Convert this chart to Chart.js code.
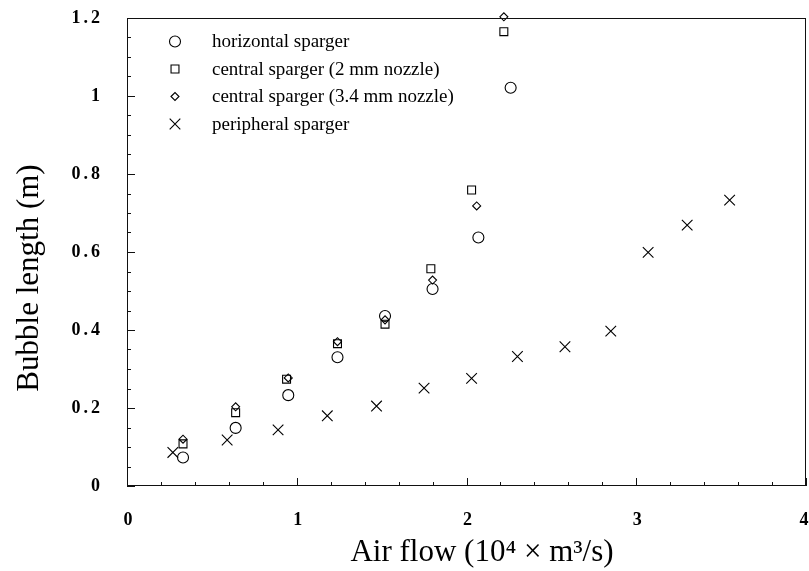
<!DOCTYPE html>
<html><head><meta charset="utf-8">
<script src="https://cdn.jsdelivr.net/npm/chart.js@4/dist/chart.umd.min.js"></script>
<style>html,body{margin:0;padding:0;background:#fff}#wrap{width:809px;height:571px}</style>
</head><body><div id="wrap"><canvas id="c" width="809" height="571"></canvas></div>
<script>
const seriesNames = ["horizontal sparger", "central sparger (2 mm nozzle)", "central sparger (3.4 mm nozzle)", "peripheral sparger"];
const horizontalX = [0.33, 0.64, 0.95, 1.24, 1.52, 1.80, 2.07, 2.26];
const horizontalY = [0.073, 0.149, 0.233, 0.330, 0.436, 0.505, 0.637, 1.021];
const central2X = [0.33, 0.64, 0.94, 1.24, 1.52, 1.79, 2.03, 2.22];
const central2Y = [0.108, 0.188, 0.274, 0.365, 0.415, 0.557, 0.759, 1.165];
const central34X = [0.33, 0.64, 0.95, 1.24, 1.52, 1.80, 2.06, 2.22];
const central34Y = [0.120, 0.203, 0.277, 0.370, 0.426, 0.528, 0.718, 1.203];
const peripheralX = [0.27, 0.59, 0.89, 1.18, 1.47, 1.75, 2.03, 2.30, 2.58, 2.85, 3.07, 3.30, 3.55];
const peripheralY = [0.086, 0.118, 0.144, 0.180, 0.205, 0.251, 0.276, 0.332, 0.357, 0.397, 0.599, 0.669, 0.733];
const xTickValues = [0, 1, 2, 3, 4];
const xTickLabels = ["0", "1", "2", "3", "4"];
const yTickValues = [0, 0.2, 0.4, 0.6, 0.8, 1, 1.2];
const xTitle = "Air flow (10\u2074 \u00d7 m\u00b3/s)";
const yTitle = "Bubble length (m)";

const toPts = (xs, ys) => xs.map((x, i) => ({x: x, y: ys[i]}));
const styles = [
  {pointStyle: 'circle', radius: 5.5},
  {pointStyle: 'rect', radius: 5.6},
  {pointStyle: 'rectRot', radius: 4},
  {pointStyle: 'crossRot', radius: 7.5}
];
const allData = [toPts(horizontalX, horizontalY), toPts(central2X, central2Y), toPts(central34X, central34Y), toPts(peripheralX, peripheralY)];
const SERIF = "'Liberation Serif', 'Times New Roman', serif";

function drawMarker(ctx, style, r, x, y) {
  ctx.beginPath();
  if (style === 'circle') { ctx.arc(x, y, r, 0, Math.PI * 2); }
  else if (style === 'rect') { const s = Math.SQRT1_2 * r; ctx.rect(x - s, y - s, 2 * s, 2 * s); }
  else if (style === 'rectRot') { ctx.moveTo(x - r, y); ctx.lineTo(x, y - r); ctx.lineTo(x + r, y); ctx.lineTo(x, y + r); ctx.closePath(); }
  else if (style === 'crossRot') { const o = Math.SQRT1_2 * r; ctx.moveTo(x - o, y - o); ctx.lineTo(x + o, y + o); ctx.moveTo(x + o, y - o); ctx.lineTo(x - o, y + o); }
  ctx.stroke();
}

const framePlugin = {
  id: 'frame',
  beforeDraw(chart) { chart.ctx.letterSpacing = '3px'; },
  beforeDatasetsDraw(chart) { chart.ctx.letterSpacing = '0px'; },
  afterDraw(chart) {
    const {ctx, chartArea: a, scales} = chart;
    ctx.save();
    ctx.letterSpacing = '0px';
    ctx.strokeStyle = '#111';
    ctx.lineWidth = 1;
    ctx.strokeRect(a.left + 0.5, a.top + 0.5, a.right - a.left - 1, a.bottom - a.top - 1);
    ctx.beginPath();
    for (let i = 0; i <= 20; i++) {
      const v = i * 0.2;
      const px = Math.round(scales.x.getPixelForValue(v)) + 0.5;
      const len = (i % 5 === 0) ? 8 : 4;
      ctx.moveTo(px, a.bottom); ctx.lineTo(px, a.bottom - len);
    }
    for (let i = 0; i <= 24; i++) {
      const v = i * 0.05;
      const py = Math.round(scales.y.getPixelForValue(v)) + 0.5;
      const len = (i % 4 === 0) ? 8 : 4;
      ctx.moveTo(a.left, py); ctx.lineTo(a.left + len, py);
    }
    ctx.stroke();
    ctx.fillStyle = '#000';
    // x tick labels
    ctx.font = "bold 18px " + SERIF;
    ctx.textAlign = 'center';
    ctx.textBaseline = 'middle';
    xTickValues.forEach((v, i) => {
      const px = Math.min(scales.x.getPixelForValue(v) + 1, chart.width - 5);
      ctx.fillText(xTickLabels[i], px, a.bottom + 34);
    });
    // legend
    ctx.lineWidth = 1.1;
    ctx.strokeStyle = '#000';
    ctx.font = "19px " + SERIF;
    ctx.textAlign = 'left';
    chart.data.datasets.forEach((ds, i) => {
      const y = 41.5 + i * 27.5;
      drawMarker(ctx, ds.pointStyle, ds.pointRadius, 175, y);
      ctx.fillText(ds.label, 212, y + 1);
    });
    // axis titles
    ctx.font = "31px " + SERIF;
    ctx.textAlign = 'center';
    ctx.fillText(xTitle, 482, 553);
    ctx.save();
    ctx.translate(30, 278);
    ctx.rotate(-Math.PI / 2);
    ctx.fillText(yTitle, 0, 0);
    ctx.restore();
    ctx.restore();
  }
};

new Chart(document.getElementById('c'), {
  type: 'scatter',
  data: {
    datasets: allData.map((d, i) => ({
      label: seriesNames[i],
      data: d,
      pointStyle: styles[i].pointStyle,
      pointRadius: styles[i].radius,
      pointHoverRadius: styles[i].radius,
      borderColor: '#000',
      backgroundColor: 'rgba(0,0,0,0)',
      pointBorderWidth: 1.1,
      showLine: false,
      clip: false
    }))
  },
  options: {
    responsive: false,
    devicePixelRatio: 1,
    animation: false,
    layout: {autoPadding: false, padding: {top: 18, right: 3, left: 0, bottom: 0}},
    plugins: {legend: {display: false}, tooltip: {enabled: false}},
    scales: {
      x: {
        type: 'linear', min: 0, max: 4,
        afterBuildTicks: s => { s.ticks = xTickValues.map(v => ({value: v})); },
        ticks: {display: false},
        grid: {display: false},
        border: {display: false},
        afterFit: s => { s.height = 85; },
        title: {display: false, text: xTitle}
      },
      y: {
        type: 'linear', min: 0, max: 1.2,
        afterBuildTicks: s => { s.ticks = yTickValues.map(v => ({value: v})); },
        ticks: {color: '#000', font: {family: SERIF, size: 18, weight: 'bold'}, padding: 0, callback: v => String(v)},
        grid: {display: true, drawOnChartArea: false, drawTicks: true, tickLength: 24, color: 'rgba(0,0,0,0)'},
        border: {display: false},
        afterFit: s => { s.width = 127; },
        title: {display: false, text: yTitle}
      }
    }
  },
  plugins: [framePlugin]
});
</script></body></html>
